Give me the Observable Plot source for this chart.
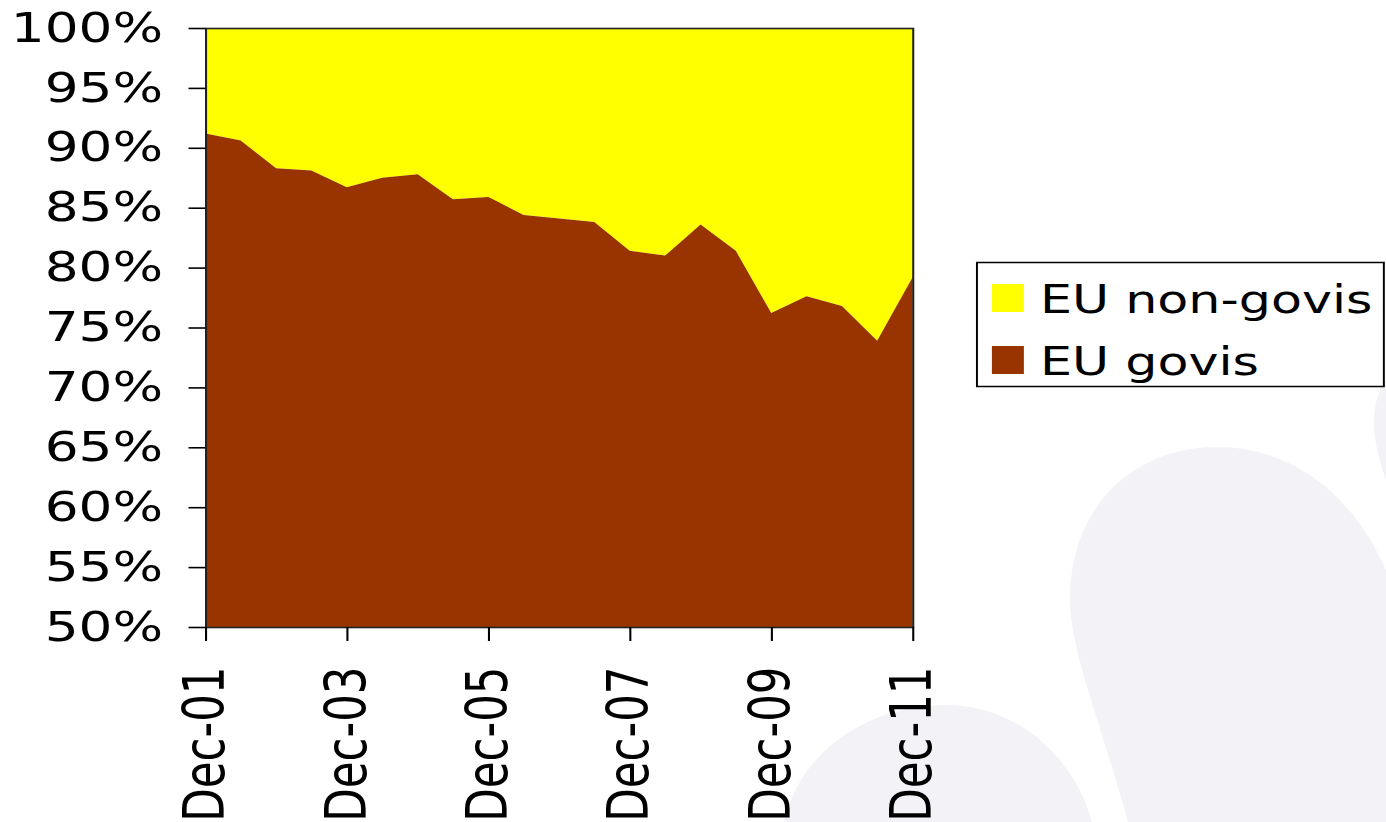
<!DOCTYPE html>
<html>
<head>
<meta charset="utf-8">
<script src="https://cdn.jsdelivr.net/npm/d3@7"></script>
<script src="https://cdn.jsdelivr.net/npm/@observablehq/plot@0.6"></script>
<style>
  html, body { margin: 0; padding: 0; background: #fff; width: 1386px; height: 822px; overflow: hidden; }
  #bg { position: absolute; left: 0; top: 0; }
  #wrap { position: absolute; left: 0; top: 0; width: 1066px; height: 822px; transform: scaleX(1.3); transform-origin: 0 0; }
  #legend { position: absolute; left: 0; top: 0; }
</style>
</head>
<body>
<svg id="bg" width="1386" height="822">
  <path d="M1128,822 C1100,720 1070,650 1070,600 C1070,500 1140,447 1216,447 C1290,447 1350,490 1386,570 L1386,822 Z" fill="#f3f3f7"/>
  <path d="M784,822 C800,750 870,705 945,705 C1020,705 1075,760 1092,822 Z" fill="#f3f3f7"/>
  <path d="M1386,380 C1372,400 1368,430 1386,480 Z" fill="#f3f3f7"/>
</svg>
<div id="wrap"></div>
<script>
// Semi-annual periods
const periods = ["Dec-01","Jun-02","Dec-02","Jun-03","Dec-03","Jun-04","Dec-04","Jun-05","Dec-05","Jun-06","Dec-06",
                 "Jun-07","Dec-07","Jun-08","Dec-08","Jun-09","Dec-09","Jun-10","Dec-10","Jun-11","Dec-11"];
// Share of EU govis (%), the rest up to 100% is EU non-govis
const euGovis = [91.2, 90.6, 88.3, 88.1, 86.7, 87.5, 87.8, 85.7, 85.9, 84.4, 84.1,
                 83.8, 81.4, 81.0, 83.6, 81.4, 76.2, 77.6, 76.8, 73.9, 79.2];
const seriesNames = ["EU non-govis", "EU govis"];
const seriesColors = ["#FFFF00", "#993300"];
const xTickLabels = ["Dec-01","Dec-03","Dec-05","Dec-07","Dec-09","Dec-11"];
const yTicks = [50, 55, 60, 65, 70, 75, 80, 85, 90, 95, 100];

const parse = d3.utcParse("%b-%y");
const data = periods.map((p, i) => ({date: parse(p), govis: euGovis[i]}));

const chart = Plot.plot({
  width: 1066,
  height: 822,
  marginLeft: 158,
  marginRight: 364,
  marginTop: 28,
  marginBottom: 195,
  style: {background: "transparent", fontFamily: "'DejaVu Sans', Verdana, sans-serif", color: "#000", overflow: "visible"},
  x: {type: "utc", domain: [parse("Dec-01"), parse("Dec-11")]},
  y: {domain: [50, 100]},
  marks: [
    Plot.areaY(data, {x: "date", y1: "govis", y2: 100, fill: seriesColors[0]}),
    Plot.areaY(data, {x: "date", y1: 50, y2: "govis", fill: seriesColors[1]}),
    Plot.frame({stroke: "#222", strokeWidth: 1.6}),
    Plot.axisY({ticks: yTicks, tickFormat: d => d + "%", tickSize: 13, tickPadding: 20,
                fontSize: 41, stroke: "#000", strokeWidth: 1.6, label: null}),
    Plot.axisX({ticks: xTickLabels.map(parse), tickFormat: d3.utcFormat("%b-%y"),
                tickSize: 14, tickPadding: 25, tickRotate: -90,
                fontSize: 43.5, stroke: "#000", strokeWidth: 1.6, label: null})
  ]
});
const wrap = document.getElementById("wrap");
wrap.appendChild(chart);

// Legend (drawn in the same stretched coordinate space)
const lg = d3.select(wrap).append("svg").attr("id", "legend").attr("width", 1066).attr("height", 822)
  .style("font-family", "'DejaVu Sans', Verdana, sans-serif");
lg.append("rect").attr("x", 751.5).attr("y", 262.5).attr("width", 313).attr("height", 124)
  .attr("fill", "#fff").attr("stroke", "#000").attr("stroke-width", 1.5);
seriesNames.forEach((name, i) => {
  const base = 313 + i * 62;
  lg.append("rect").attr("x", 763).attr("y", base - 29).attr("width", 24.6).attr("height", 28)
    .attr("fill", seriesColors[i]);
  lg.append("text").attr("x", 800).attr("y", base).attr("font-size", 39).attr("fill", "#000").text(name);
});
</script>
</body>
</html>
